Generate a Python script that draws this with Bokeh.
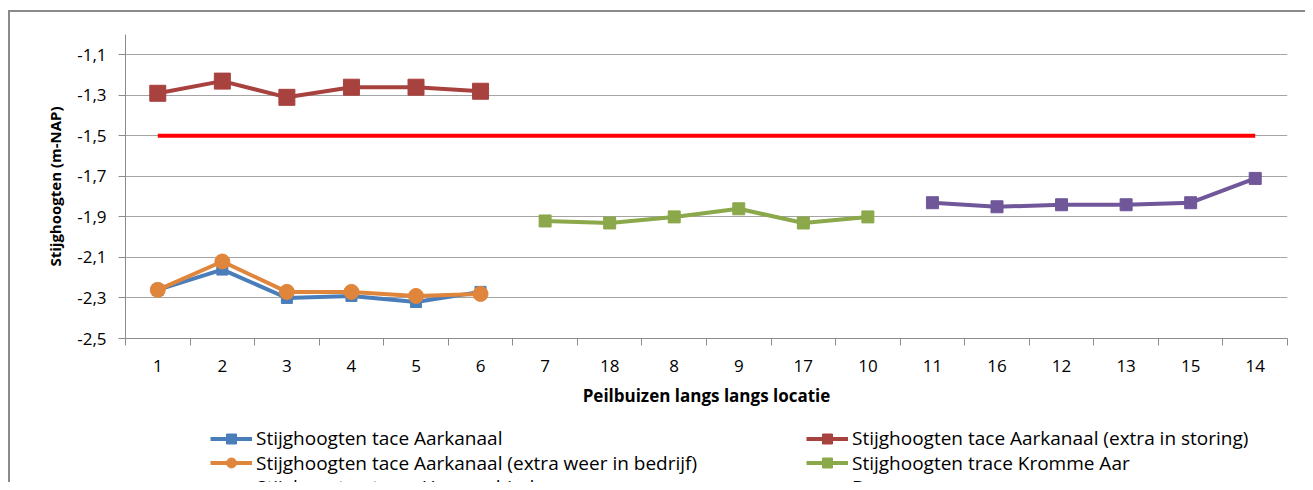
from bokeh.plotting import figure
from bokeh.layouts import column
from bokeh.models import Range1d, FixedTicker, CustomJSTickFormatter, Legend, LegendItem
from bokeh.embed import file_html
from bokeh.resources import INLINE

# ---- data ----
categories = ["1", "2", "3", "4", "5", "6", "7", "18", "8", "9", "17", "10",
              "11", "16", "12", "13", "15", "14"]

aarkanaal_cats = ["1", "2", "3", "4", "5", "6"]
aarkanaal = [-2.26, -2.16, -2.30, -2.29, -2.32, -2.27]
storing = [-1.29, -1.23, -1.31, -1.26, -1.26, -1.28]
bedrijf = [-2.26, -2.12, -2.27, -2.27, -2.29, -2.28]

kromme_cats = ["7", "18", "8", "9", "17", "10"]
kromme = [-1.92, -1.93, -1.90, -1.86, -1.93, -1.90]

heem_cats = ["11", "16", "12", "13", "15", "14"]
heem = [-1.83, -1.85, -1.84, -1.84, -1.83, -1.71]

bovengrens_cats = categories
bovengrens = [-1.5, -1.5, -1.5, -1.5, -1.5, -1.5, -1.5, -1.5, -1.5,
              -1.5, -1.5, -1.5, -1.5, -1.5, -1.5, -1.5, -1.5, -1.5]

y_ticks = [-2.5, -2.3, -2.1, -1.9, -1.7, -1.5, -1.3, -1.1]

names = ["Stijghoogten tace Aarkanaal",
         "Stijghoogten tace Aarkanaal (extra in storing)",
         "Stijghoogten tace Aarkanaal (extra weer in bedrijf)",
         "Stijghoogten trace Kromme Aar",
         "Stijghoogten trace Heemgebied",
         "Bovengrens"]

# category -> position on the axis
pos = {c: i + 1 for i, c in enumerate(categories)}

FONT = "Open Sans"
AXIS_GRAY = "#8c8c8c"
W = 1295
H_MAIN = 412
H_LEG = 58
BL, BR = 115, 18

p = figure(width=W, height=H_MAIN, output_backend="svg", toolbar_location=None,
           x_range=Range1d(0.5, len(categories) + 0.5), y_range=Range1d(-2.5, -1.0),
           min_border_left=BL, min_border_right=BR, min_border_top=22,
           min_border_bottom=H_MAIN - 326, outline_line_color=None,
           background_fill_color="white", border_fill_color="white")

# ---- axes ----
yax = p.yaxis[0]
yax.ticker = FixedTicker(ticks=y_ticks)
yax.formatter = CustomJSTickFormatter(code="return tick.toFixed(1).replace('.', ',');")
yax.axis_line_color = AXIS_GRAY
yax.major_tick_line_color = AXIS_GRAY
yax.major_tick_out = 7
yax.major_tick_in = 0
yax.minor_tick_line_color = None
yax.major_label_text_font = FONT
yax.major_label_text_font_size = "17px"
yax.major_label_text_color = "black"
yax.major_label_standoff = 12
yax.axis_label = "Stijghoogten (m-NAP)"
yax.axis_label_text_font = FONT
yax.axis_label_text_font_style = "bold"
yax.axis_label_text_font_size = "15px"
yax.axis_label_text_color = "black"
yax.axis_label_standoff = 9

xax = p.xaxis[0]
xax.ticker = FixedTicker(ticks=[pos[c] for c in categories],
                         minor_ticks=[pos[c] - 0.5 for c in categories] + [len(categories) + 0.5])
xax.major_label_overrides = {pos[c]: c for c in categories}
xax.axis_line_color = AXIS_GRAY
xax.major_tick_line_color = None
xax.major_tick_out = 0
xax.major_tick_in = 0
xax.minor_tick_line_color = AXIS_GRAY
xax.minor_tick_out = 7
xax.minor_tick_in = 0
xax.major_label_text_font = FONT
xax.major_label_text_font_size = "17px"
xax.major_label_text_color = "black"
xax.major_label_standoff = 14
xax.axis_label = "Peilbuizen langs langs locatie"
xax.axis_label_text_font = FONT
xax.axis_label_text_font_style = "bold"
xax.axis_label_text_font_size = "17px"
xax.axis_label_text_color = "black"
xax.axis_label_standoff = 9

p.xgrid.visible = False
p.ygrid.ticker = FixedTicker(ticks=y_ticks)
p.ygrid.grid_line_color = "#a4a4a4"
p.ygrid.grid_line_width = 1

# ---- series styles ----
styles = [
    # (categories, values, color, marker, size, line width)
    (aarkanaal_cats, aarkanaal, "#4A7EBB", "square", 11, 4),
    (aarkanaal_cats, storing, "#A8423F", "square", 16, 4),
    (aarkanaal_cats, bedrijf, "#E0863C", "circle", 15, 4),
    (kromme_cats, kromme, "#8BA84B", "square", 12, 4),
    (heem_cats, heem, "#70579A", "square", 12, 4),
    (bovengrens_cats, bovengrens, "#FF0000", None, 0, 4),
]

for cats, vals, color, marker, size, lw in styles:
    xs = [pos[c] for c in cats]
    p.line(xs, vals, line_color=color, line_width=lw)
    if marker is not None:
        p.scatter(xs, vals, marker=marker, size=size, fill_color=color, line_color=color)

# ---- legend (separate strip below the chart; its frame is aligned with the chart's) ----
# the strip's y range is positive, so the series drawn here stay out of view and
# only serve as legend glyphs
pl = figure(width=W, height=H_LEG, output_backend="svg", toolbar_location=None,
            x_range=Range1d(0.5, len(categories) + 0.5), y_range=Range1d(0, 1),
            x_axis_type=None, y_axis_type=None, outline_line_color=None,
            min_border_left=BL, min_border_right=BR, min_border_top=0, min_border_bottom=0,
            background_fill_color="white", border_fill_color="white")
pl.grid.visible = False

# legend slots: (x offset from frame left, legend bottom offset from strip bottom)
col_x = [85, 681]
row_vy = [31, 6.5, -18]
for k, (cats, vals, color, marker, size, lw) in enumerate(styles):
    xs = [pos[c] for c in cats]
    rs = [pl.line(xs, vals, line_color=color, line_width=lw)]
    if marker is not None:
        rs.append(pl.scatter(xs, vals, marker=marker, size=size, fill_color=color,
                             line_color=color))
    leg = Legend(items=[LegendItem(label=names[k], renderers=rs)],
                 location=(col_x[k % 2], row_vy[k // 2]), orientation="vertical",
                 padding=0, margin=0, spacing=0, label_height=25, glyph_height=25,
                 glyph_width=42, label_standoff=4, border_line_color=None,
                 background_fill_alpha=0, label_text_font=FONT,
                 label_text_font_size="19px", label_text_color="black")
    pl.add_layout(leg, "center")

inner = column(p, pl, spacing=0,
               styles={"border-left": "2px solid #8a8a8a", "border-top": "2px solid #8a8a8a"})
outer = column(inner, spacing=0, styles={"padding-left": "8px", "padding-top": "10px"})

open("out.html", "w").write(file_html(outer, INLINE))
